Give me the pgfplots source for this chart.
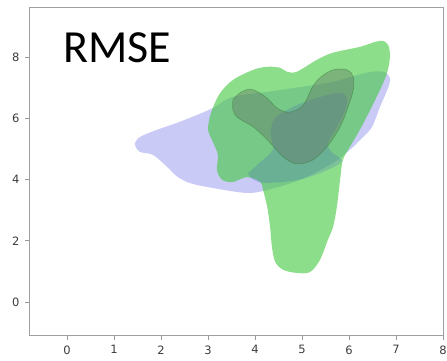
\documentclass[border=0pt]{standalone}
\usepackage{pgfplots}
\pgfplotsset{compat=1.18}
\usepackage{fontspec}
\setmainfont{DejaVu Sans}
\newfontfamily\titlefont{Carlito}

\definecolor{kdeblue}{RGB}{150,150,240}
\definecolor{kdegreen}{RGB}{63,200,60}
\definecolor{kdemid}{RGB}{60,80,200}
\definecolor{kdecore}{RGB}{100,110,100}
\definecolor{kdeline}{RGB}{60,130,60}
\definecolor{ticktext}{RGB}{60,60,60}

\begin{document}
\begin{tikzpicture}
\path[use as bounding box] (-29pt,-25pt) rectangle (418pt,336pt);
\begin{axis}[
  scale only axis,
  width=414pt, height=328pt,
  xmin=-0.81, xmax=8, ymin=-1.11, ymax=9.6,
  xtick={0,1,...,8}, ytick={0,2,4,6,8},
  tick align=outside, major tick length=4pt,
  xtick pos=bottom, ytick pos=left,
  tick style={gray!80, line width=0.6pt},
  axis line style={gray!75, line width=1pt},
  ticklabel style={font=\fontsize{11.5}{13}\selectfont, text=ticktext},
  /pgf/number format/assume math mode=true,
  x tick label style={yshift=-2pt},
  y tick label style={xshift=-2pt},
]

% outer level, first sample
\addplot[draw=none, fill=kdeblue, fill opacity=0.5, smooth, tension=0.55] coordinates {
 (1.45,5.2) (1.55,5.39) (1.91,5.62) (2.34,5.85) (2.77,6.11) (3.11,6.34)
 (3.53,6.7) (4.26,6.86) (4.96,7.02) (5.66,7.19) (6.38,7.49) (6.72,7.52)
 (6.87,7.32) (6.83,6.99) (6.66,6.37) (6.49,5.72) (6.3,5.39) (6.02,4.97)
 (5.66,4.54) (4.96,3.99) (4.26,3.66) (3.83,3.56) (3.11,3.72) (2.62,3.88)
 (2.34,4.1) (2.13,4.41) (1.83,4.8) (1.55,4.9) (1.45,5.1) (1.45,5.2)
};

% outer level, second sample
\addplot[draw=none, fill=kdegreen, fill opacity=0.6, smooth, tension=0.55] coordinates {
 (3.04,6.05) (3.11,6.37) (3.26,6.83) (3.53,7.25) (3.96,7.58) (4.26,7.68)
 (4.53,7.65) (4.68,7.52) (4.89,7.52) (5.32,7.91) (5.66,8.14) (6.23,8.33)
 (6.66,8.53) (6.83,8.4) (6.87,8.0) (6.81,7.48) (6.66,6.93) (6.45,6.27)
 (6.23,5.62) (6.02,5.07) (5.87,4.64) (5.81,3.99) (5.74,3.1) (5.66,2.45)
 (5.55,2.03) (5.38,1.37) (5.17,0.98) (4.89,0.95) (4.6,1.05) (4.43,1.31)
 (4.36,1.8) (4.32,2.45) (4.26,3.1) (4.17,3.66) (4.11,3.92) (3.83,4.08)
 (3.53,3.92) (3.3,3.99) (3.19,4.31) (3.21,4.8) (3.11,5.2) (3.0,5.62)
 (3.04,6.05)
};

% inner level, first sample
\addplot[draw=none, fill=kdemid, fill opacity=0.2, smooth, tension=0.55] coordinates {
 (3.85,4.2) (4.1,4.55) (4.38,4.97) (4.33,5.5) (4.4,5.95) (4.6,6.2)
 (5.0,6.5) (5.4,6.7) (5.8,6.83) (5.96,6.65) (5.9,6.2) (5.7,5.6)
 (5.55,5.2) (5.62,4.9) (5.85,4.62) (5.6,4.35) (4.96,4.0) (4.26,3.89)
 (3.96,3.99) (3.85,4.2)
};

% inner level, second sample
\addplot[draw=kdeline, draw opacity=0.55, line width=0.6pt, fill=kdecore, fill opacity=0.38, smooth, tension=0.55] coordinates {
 (3.53,6.6) (3.68,6.83) (3.89,6.95) (4.06,6.86) (4.26,6.65) (4.47,6.33)
 (4.68,6.2) (4.89,6.27) (5.06,6.5) (5.21,6.99) (5.38,7.32) (5.66,7.58)
 (5.96,7.58) (6.09,7.35) (6.09,6.93) (5.98,6.37) (5.81,5.72) (5.53,5.07)
 (5.23,4.64) (4.89,4.51) (4.6,4.74) (4.26,5.3) (3.96,5.72) (3.64,6.01)
 (3.53,6.27) (3.53,6.6)
};

\node[anchor=west, font=\titlefont\fontsize{46}{50}\selectfont] at (axis cs:-0.16,8.3) {RMSE};
\end{axis}
\end{tikzpicture}
\end{document}
